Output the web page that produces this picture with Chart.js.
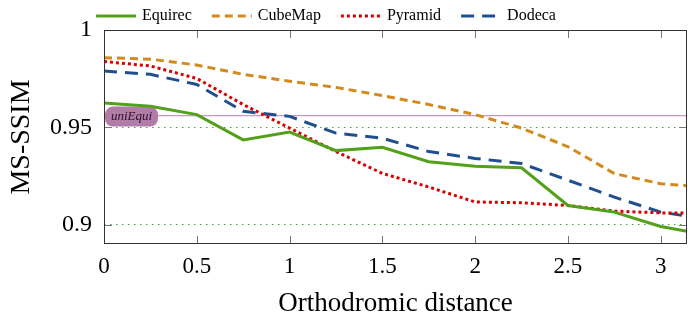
<!DOCTYPE html>
<html>
<head>
<meta charset="utf-8">
<script src="https://cdn.jsdelivr.net/npm/chart.js@4"></script>
<style>
  html, body { margin: 0; padding: 0; background: #fff; }
</style>
</head>
<body>
<canvas id="chart" width="688" height="314"></canvas>
<script>
// orthodromic distance (x) and MS-SSIM per projection
const distances = [0, 0.25, 0.5, 0.75, 1, 1.25, 1.5, 1.75, 2, 2.25, 2.5, 2.75, 3, Math.PI];
const equirec = [0.9625, 0.9608, 0.9565, 0.9435, 0.9475, 0.938, 0.9397, 0.9323, 0.930, 0.9292, 0.9098, 0.9064, 0.899, 0.8965];
const cubeMap = [0.9858, 0.985, 0.982, 0.9772, 0.9737, 0.9705, 0.9663, 0.9617, 0.9565, 0.9496, 0.940, 0.9262, 0.921, 0.920];
const pyramid = [0.9838, 0.9815, 0.9751, 0.9617, 0.9496, 0.9375, 0.9263, 0.9193, 0.9116, 0.9112, 0.9098, 0.9069, 0.906, 0.9059];
const dodeca = [0.9789, 0.9772, 0.972, 0.9582, 0.9556, 0.947, 0.9444, 0.9375, 0.934, 0.9314, 0.9228, 0.9141, 0.9064, 0.9043];
const uniEqui = 0.956;

const xTicks = [0, 0.5, 1, 1.5, 2, 2.5, 3];
const yTicks = [0.9, 0.95, 1];
const xMin = 0, xMax = Math.PI;
const yMin = 0.89, yMax = 1;

const serif = "'Liberation Serif', 'DejaVu Serif', serif";

const toPoints = arr => arr.map((v, i) => ({x: distances[i], y: v}));

const series = (label, values, color, dash) => ({
    label: label,
    data: toPoints(values),
    borderColor: color,
    backgroundColor: color,
    borderWidth: 3,
    borderDash: dash,
    pointRadius: 0,
    tension: 0,
    fill: false
});

// frame, inside ticks, uniEqui tag and the legend row
const framePlugin = {
    id: 'frame',
    afterDatasetDraw(chart, args) {
        // tag sits on the uniEqui line, under the projection curves
        if (chart.data.datasets[args.index].label !== 'uniEqui') return;
        const {ctx, chartArea: a, scales} = chart;
        const y = scales.y.getPixelForValue(uniEqui);
        const x0 = a.left + 1, w = 53, h = 20;
        ctx.save();
        ctx.fillStyle = '#b27ca9';
        ctx.beginPath();
        ctx.roundRect(x0, y - h / 2 + 1, w, h, 8);
        ctx.fill();
        ctx.fillStyle = '#2a1028';
        ctx.font = 'italic 13px ' + serif;
        ctx.textAlign = 'center';
        ctx.textBaseline = 'middle';
        ctx.fillText('uniEqui', x0 + w / 2, y + 1);
        ctx.restore();
    },
    afterDatasetsDraw(chart) {
        const {ctx, chartArea: a, scales} = chart;
        const tl = 8;
        ctx.save();
        ctx.strokeStyle = '#777';
        ctx.lineWidth = 1;
        xTicks.forEach(v => {
            const px = Math.round(scales.x.getPixelForValue(v)) + 0.5;
            ctx.beginPath();
            ctx.moveTo(px, a.bottom); ctx.lineTo(px, a.bottom - tl);
            ctx.moveTo(px, a.top); ctx.lineTo(px, a.top + tl);
            ctx.stroke();
        });
        yTicks.forEach(v => {
            const py = Math.round(scales.y.getPixelForValue(v)) + 0.5;
            ctx.beginPath();
            ctx.moveTo(a.left, py); ctx.lineTo(a.left + tl, py);
            ctx.moveTo(a.right, py); ctx.lineTo(a.right - tl, py);
            ctx.stroke();
        });
        ctx.strokeStyle = '#333';
        ctx.strokeRect(Math.round(a.left) + 0.5, Math.round(a.top) + 0.5,
            Math.round(a.right - a.left) - 1, Math.round(a.bottom - a.top) - 1);
        ctx.restore();
    },
    afterDraw(chart) {
        const ctx = chart.ctx;
        const items = chart.data.datasets.filter(d => d.label !== 'uniEqui');
        const lineW = 40, gapText = 6, gapItem = 20, cy = 16;
        ctx.save();
        ctx.font = '16px ' + serif;
        const widths = items.map(d => ctx.measureText(d.label).width);
        const total = widths.reduce((s, w) => s + lineW + gapText + w, 0) + gapItem * (items.length - 1);
        let x = 326 - total / 2;
        items.forEach((d, i) => {
            ctx.strokeStyle = d.borderColor;
            ctx.lineWidth = 3;
            ctx.setLineDash(d.borderDash);
            ctx.beginPath();
            ctx.moveTo(x, cy); ctx.lineTo(x + lineW, cy);
            ctx.stroke();
            ctx.setLineDash([]);
            ctx.fillStyle = '#000';
            ctx.textBaseline = 'middle';
            ctx.textAlign = 'left';
            ctx.fillText(d.label, x + lineW + gapText, cy);
            x += lineW + gapText + widths[i] + gapItem;
        });
        ctx.restore();
    }
};

new Chart(document.getElementById('chart'), {
    type: 'line',
    data: {
        datasets: [
            series('Equirec', equirec, '#53a01b', []),
            series('CubeMap', cubeMap, '#d38a1c', [8, 5]),
            series('Pyramid', pyramid, '#d60000', [3, 3]),
            series('Dodeca', dodeca, '#1f4f8f', [13, 8]),
            {
                label: 'uniEqui',
                data: [{x: xMin, y: uniEqui}, {x: xMax, y: uniEqui}],
                borderColor: '#c896c6',
                borderWidth: 1.3,
                pointRadius: 0,
                fill: false
            }
        ]
    },
    options: {
        responsive: false,
        animation: false,
        devicePixelRatio: 1,
        layout: {padding: {left: 6, right: 1, top: 30, bottom: 0}},
        plugins: {
            tooltip: {enabled: false},
            legend: {display: false}
        },
        scales: {
            x: {
                type: 'linear',
                min: xMin,
                max: xMax,
                afterBuildTicks: s => { s.ticks = xTicks.map(v => ({value: v})); },
                afterFit: s => { s.height = 70; },
                grid: {display: false},
                border: {display: false},
                ticks: {
                    color: '#000',
                    padding: 1,
                    maxRotation: 0,
                    font: {family: serif, size: 23},
                    callback: v => String(v)
                },
                title: {
                    display: true,
                    text: 'Orthodromic distance',
                    color: '#000',
                    padding: 0,
                    font: {family: serif, size: 27, lineHeight: 0.78}
                }
            },
            y: {
                type: 'linear',
                min: yMin,
                max: yMax,
                afterBuildTicks: s => { s.ticks = yTicks.map(v => ({value: v})); },
                afterFit: s => { s.width = 98; },
                grid: {
                    drawTicks: false,
                    lineWidth: 1,
                    color: c => (c.tick && c.tick.value < 0.99) ? '#3aa83a' : 'rgba(0,0,0,0)'
                },
                border: {display: false, dash: [1.5, 4.5]},
                ticks: {
                    color: '#000',
                    padding: 12,
                    font: {family: serif, size: 24},
                    callback: v => String(v)
                },
                title: {
                    display: true,
                    text: 'MS-SSIM',
                    color: '#000',
                    padding: 0,
                    font: {family: serif, size: 28, lineHeight: 1.1}
                }
            }
        }
    },
    plugins: [framePlugin]
});
</script>
</body>
</html>
